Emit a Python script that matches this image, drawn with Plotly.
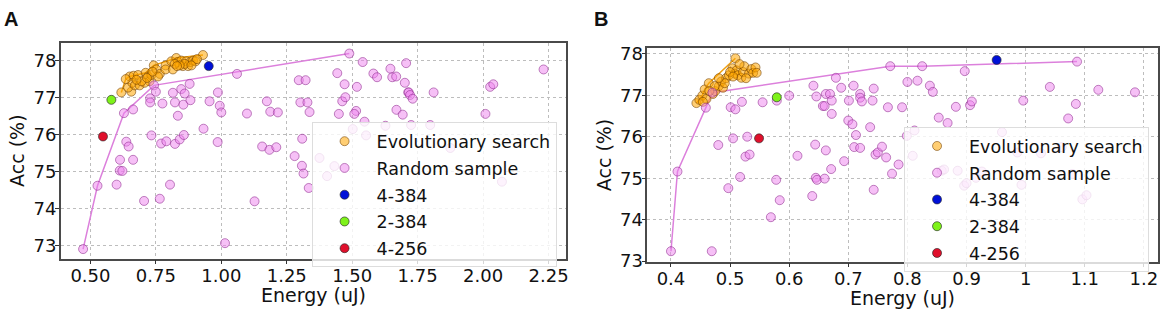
import plotly.graph_objects as go

# ---------------- Panel A data ----------------
randA_x = [0.472, 0.527, 0.628, 0.743, 1.489,
           0.663, 0.637, 0.646, 0.613, 0.663, 0.612, 0.622, 0.600, 0.705, 0.765, 0.804, 1.014,
           0.733, 0.770, 0.790, 0.823, 0.841, 0.857, 0.932, 0.986, 0.728, 0.728, 0.750, 0.775,
           0.815, 0.823, 0.847, 0.860, 0.855, 0.879, 0.882, 0.834, 0.955, 0.987, 0.994, 1.000,
           1.060, 1.098, 1.127, 1.174, 1.187, 1.216, 1.296, 1.322, 1.302, 1.329, 1.337, 1.156,
           1.184, 1.210, 1.280, 1.309, 1.308, 1.314, 1.334, 1.443, 1.471, 1.462, 1.474, 1.449,
           1.518, 1.515, 1.508, 1.540, 1.581, 1.595, 1.646, 1.653, 1.668, 1.706, 1.701, 1.714,
           1.669, 1.693, 1.547, 1.375, 1.432, 1.404, 1.502, 1.553, 1.627, 1.716, 1.721, 1.731,
           1.811, 2.027, 2.039, 2.009, 2.231, 1.725, 1.798, 1.875, 2.072]
randA_y = [72.91, 74.62, 76.58, 77.33, 78.19,
           76.68, 75.81, 75.68, 75.32, 75.32, 75.03, 75.02, 74.65, 74.21, 74.27, 74.65, 73.07,
           75.98, 75.76, 75.82, 75.75, 75.87, 75.99, 76.16, 75.80, 76.98, 76.87, 77.16, 76.84,
           77.13, 76.87, 77.23, 77.11, 76.81, 77.37, 76.93, 76.51, 76.90, 77.14, 76.78, 76.60,
           77.64, 76.57, 74.20, 76.90, 76.62, 76.60, 77.47, 77.47, 76.87, 76.87, 76.61, 75.68,
           75.59, 75.66, 75.42, 75.89, 75.16, 74.95, 74.56, 77.66, 77.36, 76.90, 77.01, 76.56,
           77.29, 76.64, 76.56, 77.96, 77.65, 77.55, 77.78, 77.55, 77.57, 77.93, 77.40, 77.14,
           76.67, 76.54, 76.35, 75.37, 75.15, 74.88, 76.15, 75.98, 76.24, 77.14, 77.07, 76.97,
           77.14, 77.29, 77.36, 76.56, 77.76, 76.26, 76.26, 75.64, 74.73]
randA_front_x = [0.472, 0.527, 0.628, 0.743, 1.489]
randA_front_y = [72.91, 74.62, 76.58, 77.33, 78.19]

evoA_x = [0.618, 0.656, 0.644, 0.650, 0.665, 0.682, 0.660, 0.670, 0.688, 0.711, 0.720, 0.726,
          0.733, 0.707, 0.695, 0.742, 0.752, 0.765, 0.787, 0.787, 0.815, 0.809, 0.828, 0.834,
          0.847, 0.853, 0.866, 0.873, 0.882, 0.892, 0.902, 0.860, 0.841, 0.930, 0.758, 0.737,
          0.635, 0.676, 0.716, 0.822, 0.831, 0.886, 0.907]
evoA_y = [77.14, 77.16, 77.27, 77.57, 77.59, 77.61, 77.40, 77.33, 77.33, 77.67, 77.57, 77.44,
          77.61, 77.40, 77.44, 77.87, 77.76, 77.64, 77.87, 77.76, 77.76, 77.98, 78.07, 77.96,
          78.00, 77.85, 77.98, 77.85, 77.96, 78.00, 77.98, 77.91, 77.87, 78.15, 77.57, 77.70,
          77.50, 77.48, 77.53, 77.91, 77.85, 77.87, 78.04]
evoA_front_x = [0.618, 0.635, 0.650, 0.711, 0.742, 0.828, 0.930]
evoA_front_y = [77.14, 77.50, 77.57, 77.67, 77.87, 78.07, 78.15]

specA_x = [0.952, 0.580, 0.548]
specA_y = [77.85, 76.94, 75.95]

# ---------------- Panel B data ----------------
randB_x = [0.400, 0.411, 0.459, 0.470, 0.771, 0.825, 1.087,
           0.469, 0.480, 0.501, 0.509, 0.520, 0.555, 0.505, 0.529, 0.526, 0.533, 0.517, 0.497,
           0.578, 0.584, 0.569, 0.600, 0.579, 0.614, 0.644, 0.641, 0.646, 0.645, 0.647, 0.639,
           0.657, 0.662, 0.669, 0.660, 0.672, 0.672, 0.679, 0.688, 0.662, 0.671, 0.693, 0.660,
           0.701, 0.709, 0.720, 0.720, 0.723, 0.743, 0.741, 0.700, 0.707, 0.713, 0.737, 0.710,
           0.720, 0.746, 0.750, 0.757, 0.764, 0.785, 0.774, 0.743, 0.767, 0.791, 0.800, 0.817,
           0.838, 0.843, 0.853, 0.868, 0.882, 0.897, 0.906, 0.909, 0.799, 0.812, 0.809, 0.858,
           0.862, 0.885, 0.926, 0.916, 1.041, 1.123, 1.185, 0.996, 1.085, 1.072, 0.960, 0.986,
           1.026, 1.061, 0.993, 1.079, 1.096, 1.103, 0.896, 0.900]
randB_y = [73.24, 75.16, 76.70, 77.06, 77.70, 77.70, 77.81,
           73.24, 75.80, 76.71, 76.66, 76.84, 76.83, 75.96, 76.00, 75.52, 75.57, 75.03, 74.76,
           74.96, 74.47, 74.06, 76.99, 76.87, 75.54, 75.81, 77.23, 76.97, 75.01, 74.96, 74.57,
           76.74, 77.03, 77.03, 76.74, 76.87, 76.55, 77.42, 77.18, 75.67, 75.22, 75.41, 74.99,
           76.87, 77.23, 77.03, 76.94, 76.85, 77.16, 76.87, 76.39, 76.30, 76.04, 76.23, 75.75,
           75.73, 75.57, 75.62, 75.76, 75.50, 75.33, 75.11, 74.72, 76.71, 76.71, 77.32, 77.35,
           77.23, 77.08, 76.46, 76.33, 76.72, 77.58, 76.76, 76.85, 76.02, 76.15, 75.54, 75.18,
           75.21, 75.18, 75.16, 75.01, 77.20, 77.13, 77.07, 76.87, 76.79, 76.44, 76.11, 75.62,
           75.60, 75.75, 74.84, 75.10, 74.49, 74.59, 74.82, 74.88]
randB_front_x = [0.400, 0.411, 0.459, 0.470, 0.771, 0.825, 1.087]
randB_front_y = [73.24, 75.16, 76.70, 77.06, 77.70, 77.70, 77.81]

evoB_x = [0.443, 0.448, 0.453, 0.457, 0.460, 0.464, 0.471, 0.475, 0.481, 0.485, 0.488, 0.493,
          0.498, 0.504, 0.508, 0.511, 0.513, 0.509, 0.519, 0.522, 0.524, 0.532, 0.536, 0.539,
          0.543, 0.545, 0.500, 0.491, 0.481, 0.474, 0.465, 0.454, 0.505, 0.516, 0.527]
evoB_y = [76.81, 76.89, 76.99, 77.14, 76.91, 77.29, 77.03, 77.10, 77.22, 77.33, 77.18, 77.41,
          77.48, 77.65, 77.52, 77.60, 77.48, 77.89, 77.42, 77.56, 77.70, 77.52, 77.63, 77.54,
          77.67, 77.54, 77.56, 77.29, 77.41, 77.22, 77.10, 76.84, 77.45, 77.75, 77.41]
evoB_front_x = [0.443, 0.453, 0.457, 0.464, 0.509]
evoB_front_y = [76.81, 76.99, 77.14, 77.29, 77.89]

specB_x = [0.951, 0.579, 0.549]
specB_y = [77.85, 76.95, 75.96]

spec_names = ["4-384", "2-384", "4-256"]
spec_colors = ["#0010d8", "#7ef21a", "#e0102c"]

xA_ticks = [0.5, 0.75, 1.0, 1.25, 1.5, 1.75, 2.0, 2.25]
xA_labels = ["0.50", "0.75", "1.00", "1.25", "1.50", "1.75", "2.00", "2.25"]
xB_ticks = [0.4, 0.5, 0.6, 0.7, 0.8, 0.9, 1.0, 1.1, 1.2]
y_ticks = [73, 74, 75, 76, 77, 78]

# ---------------- styles ----------------
FONT = "DejaVu Sans"
PINK_FILL = "rgba(238,130,238,0.5)"
PINK_EDGE = "rgba(140,40,140,0.55)"
PINK_LINE = "#dc80dc"
ORANGE_FILL = "rgba(255,165,0,0.55)"
ORANGE_EDGE = "rgba(110,60,0,0.55)"
ORANGE_LINE = "#f0a010"
MS = 9

fig = go.Figure()


def add_panel(xa, ya, legend, rx, ry, rfx, rfy, ex, ey, efx, efy, sx, sy):
    fig.add_trace(go.Scatter(x=rfx, y=rfy, mode="lines", line=dict(color=PINK_LINE, width=1.5),
                             showlegend=False, xaxis=xa, yaxis=ya, hoverinfo="skip"))
    fig.add_trace(go.Scatter(x=efx, y=efy, mode="lines", line=dict(color=ORANGE_LINE, width=1.5),
                             showlegend=False, xaxis=xa, yaxis=ya, hoverinfo="skip"))
    fig.add_trace(go.Scatter(x=ex, y=ey, mode="markers", name="Evolutionary search",
                             marker=dict(size=MS, color=ORANGE_FILL, line=dict(color=ORANGE_EDGE, width=1)),
                             xaxis=xa, yaxis=ya, legend=legend, legendgroup="evo" + legend))
    fig.add_trace(go.Scatter(x=rx, y=ry, mode="markers", name="Random sample",
                             marker=dict(size=MS, color=PINK_FILL, line=dict(color=PINK_EDGE, width=1)),
                             xaxis=xa, yaxis=ya, legend=legend, legendgroup="rnd" + legend))
    for i in range(3):
        fig.add_trace(go.Scatter(x=[sx[i]], y=[sy[i]], mode="markers", name=spec_names[i],
                                 marker=dict(size=MS, color=spec_colors[i],
                                             line=dict(color="rgba(40,40,40,0.8)", width=0.8)),
                                 xaxis=xa, yaxis=ya, legend=legend,
                                 legendgroup=spec_names[i] + legend))


add_panel("x", "y", "legend", randA_x, randA_y, randA_front_x, randA_front_y,
          evoA_x, evoA_y, evoA_front_x, evoA_front_y, specA_x, specA_y)
add_panel("x2", "y2", "legend2", randB_x, randB_y, randB_front_x, randB_front_y,
          evoB_x, evoB_y, evoB_front_x, evoB_front_y, specB_x, specB_y)

W, H = 1170, 325
axis_common = dict(showline=True, mirror=True, linecolor="#4a4a4a", linewidth=1.5,
                   showgrid=True, gridcolor="#bdbdbd", griddash="dot", gridwidth=1,
                   ticks="outside", ticklen=4, tickcolor="#333", zeroline=False,
                   tickfont=dict(family=FONT, size=18, color="#111"))

legend_common = dict(bgcolor="rgba(255,255,255,0.8)", bordercolor="#dddddd", borderwidth=1,
                     font=dict(family=FONT, size=17.5, color="#111"), tracegroupgap=1,
                     itemwidth=54, xanchor="right", yanchor="top")

fig.update_layout(
    width=W, height=H, margin=dict(l=0, r=0, t=0, b=0),
    paper_bgcolor="white", plot_bgcolor="white", showlegend=True,
    xaxis=dict(domain=[61 / W, 567 / W], range=[0.387, 2.315], tickvals=xA_ticks, ticktext=xA_labels,
               anchor="y", ticklabelstandoff=-4, **axis_common),
    yaxis=dict(domain=[1 - 266 / H, 1 - 40 / H], range=[72.65, 78.47], tickvals=y_ticks,
               anchor="x", ticklabelstandoff=-5, **axis_common),
    xaxis2=dict(domain=[649 / W, 1161 / W], range=[0.360, 1.224], tickvals=xB_ticks,
                anchor="y2", ticklabelstandoff=-4, **axis_common),
    yaxis2=dict(domain=[1 - 269 / H, 1 - 45 / H], range=[72.99, 78.14], tickvals=y_ticks,
                anchor="x2", ticklabelstandoff=-5, **axis_common),
    legend=dict(x=558 / W, y=1 - 123 / H, **legend_common),
    legend2=dict(x=1152 / W, y=1 - 128 / H, **legend_common),
)

ann = [
    dict(text="<b>A</b>", x=11 / W, y=1 - 15 / H, font=dict(family="Liberation Sans", size=20, color="#111")),
    dict(text="<b>B</b>", x=603 / W, y=1 - 15 / H, font=dict(family="Liberation Sans", size=20, color="#111")),
    dict(text="Energy (uJ)", x=314 / W, y=1 - 304 / H, font=dict(family=FONT, size=19, color="#111")),
    dict(text="Energy (uJ)", x=905 / W, y=1 - 307 / H, font=dict(family=FONT, size=19, color="#111")),
    dict(text="Acc (%)", x=17 / W, y=1 - 153 / H, textangle=-90, font=dict(family=FONT, size=19, color="#111")),
    dict(text="Acc (%)", x=605 / W, y=1 - 157 / H, textangle=-90, font=dict(family=FONT, size=19, color="#111")),
]
for a in ann:
    fig.add_annotation(xref="paper", yref="paper", showarrow=False, xanchor="center", yanchor="middle", **a)

fig.write_html("out.html", post_script="document.body.style.margin='0';",
               config={"displayModeBar": False})
